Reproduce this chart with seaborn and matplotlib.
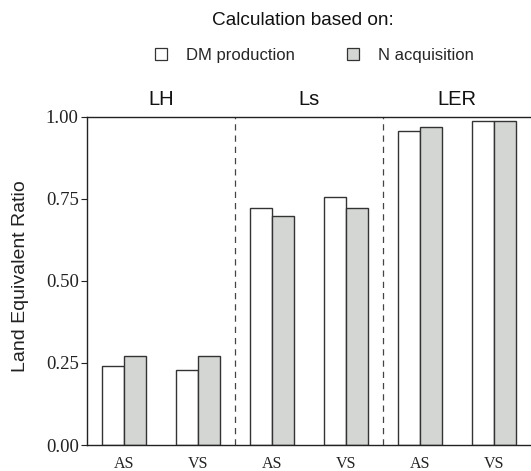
import matplotlib
matplotlib.use("Agg")
import matplotlib.pyplot as plt
from matplotlib.patches import Patch
import seaborn as sns
import pandas as pd

groups = ["LH", "LH", "Ls", "Ls", "LER", "LER"]
systems = ["AS", "VS", "AS", "VS", "AS", "VS"]
dm_production = [0.242, 0.228, 0.721, 0.756, 0.957, 0.987]
n_acquisition = [0.270, 0.270, 0.697, 0.721, 0.969, 0.987]
series_names = ["DM production", "N acquisition"]
colors = ["#ffffff", "#d4d6d4"]

keys = [f"{g}-{s}" for g, s in zip(groups, systems)]
df = pd.DataFrame({
    "key": keys * 2,
    "value": dm_production + n_acquisition,
    "series": [series_names[0]] * 6 + [series_names[1]] * 6,
})

sns.set_theme(style="white")
plt.rcParams["font.family"] = ["Liberation Sans", "DejaVu Sans"]

fig = plt.figure(figsize=(5.31, 4.71), dpi=100)
ax = fig.add_axes([0.1638, 0.0552, 0.8362, 0.697])

sns.barplot(data=df, x="key", y="value", hue="series", order=keys,
            hue_order=series_names, palette=colors, width=0.6,
            edgecolor="#333333", linewidth=1.0, legend=False, ax=ax)

ax.set_xlim(-0.5, 5.5)
ax.set_ylim(0, 1.0)
ax.set_yticks([0, 0.25, 0.5, 0.75, 1.0])
ax.set_yticklabels(["0.00", "0.25", "0.50", "0.75", "1.00"],
                   family="Liberation Serif", fontsize=13.5)
ax.set_xticks(range(6))
ax.set_xticklabels(systems, family="Liberation Serif", fontsize=11.5)
ax.tick_params(axis="y", which="both", left=True, length=4, width=0.8,
               color="#222222", pad=2, labelcolor="#222222")
ax.tick_params(axis="x", length=0, pad=8, labelcolor="#222222")
ax.set_xlabel("")
ax.set_ylabel("Land Equivalent Ratio", fontsize=14, color="#222222")
ax.yaxis.set_label_coords(-0.131, 0.515)

for side in ["left", "bottom", "top"]:
    ax.spines[side].set_visible(True)
    ax.spines[side].set_color("#222222")
    ax.spines[side].set_linewidth(1.0)
ax.spines["right"].set_visible(False)

for xv in [1.5, 3.5]:
    ax.axvline(xv, color="#444444", linestyle=(0, (5, 4)), linewidth=0.9)

group_names = ["LH", "Ls", "LER"]
for i, g in enumerate(group_names):
    ax.text(2 * i + 0.5, 1.022, g, transform=ax.get_xaxis_transform(),
            ha="center", va="bottom", fontsize=14.5, color="#111111")

fig.text(0.571, 0.957, "Calculation based on:", ha="center", va="center",
         fontsize=13.7, color="#111111")
handles = [Patch(facecolor=c, edgecolor="#333333", linewidth=0.9) for c in colors]
fig.legend(handles, series_names, ncol=2, loc="center",
           bbox_to_anchor=(0.592, 0.883), frameon=False, fontsize=12,
           handlelength=0.72, handleheight=0.72, columnspacing=3.1,
           handletextpad=1.15)

fig.savefig("out.png", dpi=100)
